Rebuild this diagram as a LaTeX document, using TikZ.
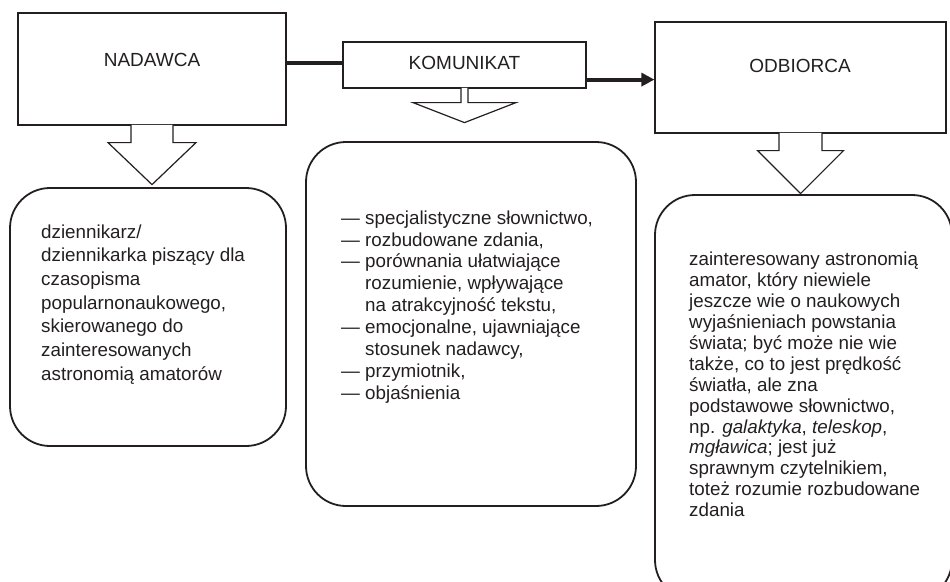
\documentclass[tikz,border=0pt]{standalone}
\usepackage{fontspec}
\setmainfont{Liberation Sans}
\usetikzlibrary{arrows.meta,calc}
\definecolor{ink}{RGB}{35,31,32}
\begin{document}
\begin{tikzpicture}[x=1pt,y=-1pt,
  titlebox/.style={draw=ink, line width=1.2pt, fill=white, inner sep=0pt},
  titletext/.style={inner sep=0pt, text=ink, font=\fontsize{19}{22}\selectfont},
  roundbox/.style={draw=ink, line width=1.8pt, rounded corners=40pt, inner sep=0pt},
  body/.style={align=left, inner sep=0pt, anchor=north west, text=ink},
  blockarrow/.style={draw=ink, line width=1.2pt, fill=white, line join=miter},
  link/.style={draw=ink, line width=4pt}
]
\useasboundingbox (0,0) rectangle (950,581);

% title boxes
\node[titlebox, minimum width=268pt, minimum height=112pt] (nad) at (152,69) {};
\node[titletext] (nadt) at (152,60) {NADAWCA};
\node[titlebox, minimum width=243pt, minimum height=46pt] (kom) at (464.5,65) {};
\node[titletext] (komt) at (464.5,63) {KOMUNIKAT};
\node[titlebox, minimum width=291pt, minimum height=111pt] (odb) at (800.5,77.5) {};
\node[titletext] (odbt) at (800,66) {ODBIORCA};

% connectors
\draw[link] (nad.east |- komt) -- (kom.west |- komt);
\coordinate (k2) at ($(kom.south east)+(0,-9)$);
\draw[link, -{Triangle[length=13pt,width=13pt]}] (k2) -- (odb.west |- k2);

% block arrows
\filldraw[blockarrow] ($(nad.south)+(-21,-0.8)$) -- ++(0,17.8) -- ++(-23,0)
  -- ($(nad.south)+(0,59)$) -- ($(nad.south)+(44,17)$) -- ++(-23,0) -- ++(0,-17.8);
\filldraw[blockarrow] ($(kom.south)+(-3.5,-0.8)$) -- ++(0,14.8) -- ++(-48,0)
  -- ($(kom.south)+(0,34)$) -- ($(kom.south)+(51.5,14)$) -- ++(-48,0) -- ++(0,-14.8);
\filldraw[blockarrow] ($(odb.south)+(-21.5,-0.8)$) -- ++(0,17.8) -- ++(-21.5,0)
  -- ($(odb.south)+(0,60)$) -- ($(odb.south)+(43,17)$) -- ++(-21.5,0) -- ++(0,-17.8);

% rounded boxes
\node[roundbox, minimum width=276pt, minimum height=258pt] (lbox) at (148,317) {};
\node[roundbox, minimum width=330pt, minimum height=364pt] (mbox) at (471,324) {};
\node[roundbox, minimum width=297pt, minimum height=405pt] (rbox) at (803.5,397.5) {};

% texts
\node[body, font=\fontsize{18.8}{23.7}\selectfont] (ltext) at (41,224.3) {%
dziennikarz/\\
dziennikarka piszący dla\\
czasopisma\\
popularnonaukowego,\\
skierowanego do\\
zainteresowanych\\
astronomią amatorów};

\node[body, font=\fontsize{18.8}{21.9}\selectfont] (mtext) at (341,210.3) {%
— specjalistyczne słownictwo,\\
— rozbudowane zdania,\\
— porównania ułatwiające\\
\phantom{—\ }rozumienie, wpływające\\
\phantom{—\ }na atrakcyjność tekstu,\\
— emocjonalne, ujawniające\\
\phantom{—\ }stosunek nadawcy,\\
— przymiotnik,\\
— objaśnienia};

\node[body, font=\fontsize{18.8}{20.9}\selectfont] (rtext) at (689,252) {%
zainteresowany astronomią\\
amator, który niewiele\\
jeszcze wie o naukowych\\
wyjaśnieniach powstania\\
świata; być może nie wie\\
także, co to jest prędkość\\
światła, ale zna\\
podstawowe słownictwo,\\
np. \textit{galaktyka}, \textit{teleskop},\\
\textit{mgławica}; jest już\\
sprawnym czytelnikiem,\\
toteż rozumie rozbudowane\\
zdania};
\end{tikzpicture}
\end{document}
